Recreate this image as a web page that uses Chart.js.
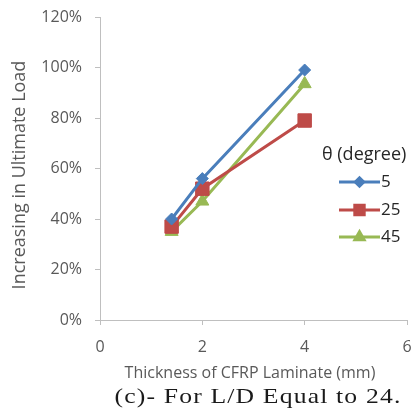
<!DOCTYPE html>
<html>
<head>
<meta charset="utf-8">
<script src="https://cdn.jsdelivr.net/npm/chart.js@4/dist/chart.umd.min.js"></script>
<style>
  html, body { margin: 0; padding: 0; background: #fff; }
  #wrap { position: relative; width: 411px; height: 414px; overflow: hidden; }
</style>
</head>
<body>
<div id="wrap"><canvas id="c" width="411" height="414"></canvas></div>
<script>
// Laminate thickness (mm) and increase in ultimate load (%) for each fibre angle
const thickness = [1.4, 2, 4];
const theta5  = [40, 56, 99];
const theta25 = [37, 52, 79];
const theta45 = [35, 47, 93.5];
const seriesNames = ['5', '25', '45'];
const yTicks = [0, 20, 40, 60, 80, 100, 120];
const xTicks = [0, 2, 4, 6];

const legendTitle = 'θ (degree)';
const xTitle = 'Thickness of CFRP Laminate (mm)';
const yTitle = 'Increasing in Ultimate Load';
const caption = '(c)- For L/D Equal to 24.';

const UI = '"Open Sans", Lato, sans-serif';
const textGray = '#595959';
const axisGray = '#bfbfbf';

function points(ys) { return thickness.map((x, i) => ({ x: x, y: ys[i] })); }

const styles = [
  { color: '#4a7ebb', style: 'rectRot', radius: 6 },
  { color: '#be4b48', style: 'rect', radius: 9.5 },
  { color: '#98b954', style: 'triangle', radius: 7.5 }
];

const datasets = [theta5, theta25, theta45].map((ys, i) => ({
  label: seriesNames[i],
  data: points(ys),
  borderColor: styles[i].color,
  backgroundColor: styles[i].color,
  borderWidth: 3,
  pointStyle: styles[i].style,
  pointRadius: styles[i].radius,
  pointBorderWidth: 1,
  tension: 0
}));

// Axis titles, caption and the legend box drawn on the canvas
const annotations = {
  id: 'annotations',
  afterDraw(chart) {
    const ctx = chart.ctx;
    ctx.save();
    ctx.fillStyle = textGray;
    ctx.textAlign = 'center';
    ctx.textBaseline = 'middle';

    ctx.font = '16px ' + UI;
    ctx.fillText(xTitle, 250, 373);

    ctx.save();
    ctx.translate(20, 175);
    ctx.rotate(-Math.PI / 2);
    ctx.font = '18px ' + UI;
    ctx.fillText(yTitle, 0, 0);
    ctx.restore();

    // figure caption, set in a widely spaced serif face
    ctx.save();
    ctx.fillStyle = '#1a1a1a';
    ctx.font = '22px "Liberation Serif", "Times New Roman", serif';
    if ('letterSpacing' in ctx) ctx.letterSpacing = '1px';
    const w = ctx.measureText(caption).width;
    const sx = 287 / w;
    ctx.translate(258, 397);
    ctx.scale(sx, 1);
    ctx.fillText(caption, 0, 0);
    ctx.restore();

    // legend
    ctx.fillStyle = '#262626';
    ctx.textAlign = 'left';
    ctx.font = '18px ' + UI;
    ctx.fillText(legendTitle, 322, 155);
    const rows = [182, 210, 237];
    chart.data.datasets.forEach((ds, i) => {
      const y = rows[i];
      ctx.strokeStyle = ds.borderColor;
      ctx.lineWidth = 3;
      ctx.beginPath();
      ctx.moveTo(339, y);
      ctx.lineTo(380, y);
      ctx.stroke();
      ctx.fillStyle = ds.backgroundColor;
      Chart.helpers.drawPoint(ctx, {
        pointStyle: ds.pointStyle,
        radius: ds.pointRadius * 0.7,
        borderWidth: 1
      }, 359.5, y);
      ctx.fillStyle = '#262626';
      ctx.font = '17px ' + UI;
      ctx.fillText(ds.label, 381, y);
    });
    ctx.restore();
  }
};

new Chart(document.getElementById('c'), {
  type: 'line',
  data: { datasets: datasets },
  plugins: [annotations],
  options: {
    responsive: false,
    animation: false,
    layout: { autoPadding: false, padding: { top: 17, right: 4, left: 0, bottom: 0 } },
    plugins: { legend: { display: false }, tooltip: { enabled: false } },
    scales: {
      x: {
        type: 'linear',
        min: 0, max: 6,
        afterBuildTicks(scale) { scale.ticks = xTicks.map(v => ({ value: v })); },
        afterFit(scale) {
          scale.height = 94;
          scale.paddingLeft = 0;
          scale.paddingRight = 0;
        },
        border: { color: axisGray, width: 1 },
        grid: { drawOnChartArea: false, color: axisGray, tickLength: 5 },
        ticks: { color: textGray, font: { family: UI, size: 16 }, padding: 13, maxRotation: 0 }
      },
      y: {
        min: 0, max: 120,
        afterBuildTicks(scale) { scale.ticks = yTicks.map(v => ({ value: v })); },
        afterFit(scale) {
          scale.width = 100;
          scale.paddingTop = 0;
          scale.paddingBottom = 0;
        },
        border: { color: axisGray, width: 1 },
        grid: { drawOnChartArea: false, color: axisGray, tickLength: 5 },
        ticks: {
          color: textGray,
          font: { family: UI, size: 16 },
          padding: 13,
          callback: v => v + '%'
        }
      }
    }
  }
});
</script>
</body>
</html>
